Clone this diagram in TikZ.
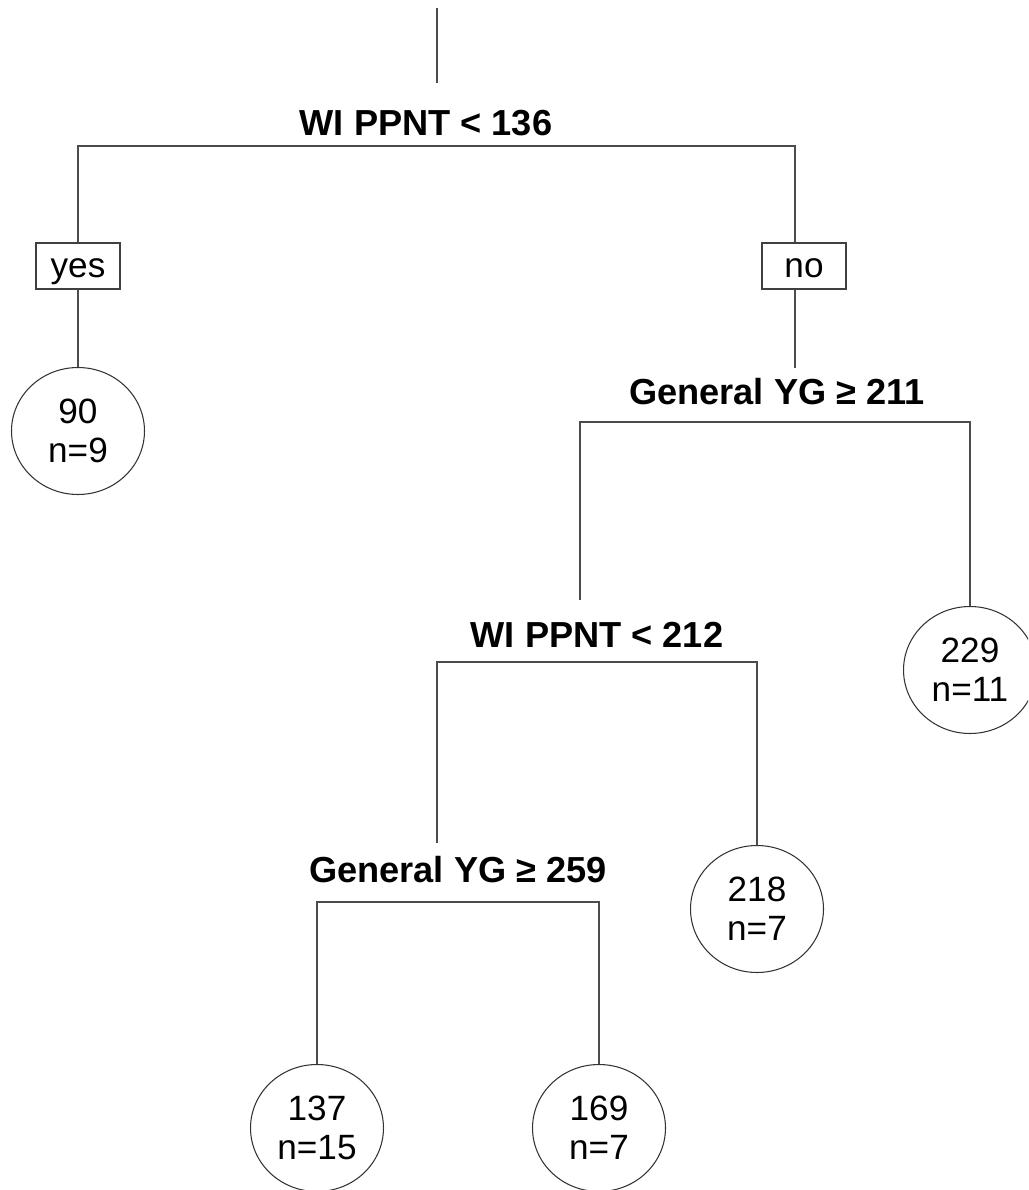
\documentclass[tikz,border=0pt]{standalone}
\usepackage{fontspec}
\setmainfont{Liberation Sans}
\usetikzlibrary{shapes.geometric}
\tikzset{
  split/.style={font=\fontsize{20.6}{22}\selectfont\bfseries, inner sep=0pt},
  answer/.style={draw=black!75, line width=0.6pt, minimum width=1.68cm, minimum height=0.92cm,
    inner sep=0pt, text height=15pt, text depth=1.4pt, font=\fontsize{20}{22}\selectfont},
  leaf/.style={ellipse, draw=black!80, line width=0.6pt, minimum width=2.66cm, minimum height=2.54cm,
    inner sep=0pt, align=center, font=\fontsize{20}{22}\selectfont},
  branch/.style={black!70, line width=0.6pt}
}
\begin{document}
\begin{tikzpicture}[x=0.02cm, y=-0.02cm]
  \useasboundingbox (0,0) rectangle (1028,1190);
  \clip (0,0) rectangle (1028,1190);
  % root split
  \coordinate (root) at (437,8);
  \coordinate (r1) at (437,83);
  \node[split] (s1) at (426,123) {WI PPNT < 136};
  \coordinate (b1l) at (78,146);
  \coordinate (b1r) at (795,146);
  \node[answer] (yes) at (78,266) {yes};
  \node[answer] (no) at (804,266) {no};
  \node[leaf] (leaf90) at (78,431) {90\\n=9};
  \draw[branch] (root) -- (r1);
  \draw[branch] (yes.north) -- (b1l) -- (b1r) -- (b1r |- no.north);
  \draw[branch] (yes.south) -- (leaf90.north);
  % second split
  \coordinate (in2) at (795,368);
  \draw[branch] (no.south -| b1r) -- (in2);
  \node[split] (s2) at (777,392) {General YG ≥ 211};
  \coordinate (b2l) at (580,422);
  \coordinate (b2r) at (970,422);
  \coordinate (in3) at (580,600);
  \node[leaf] (leaf229) at (970,670) {229\\n=11};
  \draw[branch] (in3) -- (b2l) -- (b2r) -- (leaf229.north);
  % third split
  \node[split] (s3) at (597,635) {WI PPNT < 212};
  \coordinate (b3l) at (437,662);
  \coordinate (b3r) at (757,662);
  \coordinate (in4) at (437,843);
  \node[leaf] (leaf218) at (757,909) {218\\n=7};
  \draw[branch] (in4) -- (b3l) -- (b3r) -- (leaf218.north);
  % fourth split
  \node[split] (s4) at (458,870) {General YG ≥ 259};
  \coordinate (b4l) at (317,902);
  \coordinate (b4r) at (599,902);
  \node[leaf] (leaf137) at (317,1128) {137\\n=15};
  \node[leaf] (leaf169) at (599,1128) {169\\n=7};
  \draw[branch] (leaf137.north) -- (b4l) -- (b4r) -- (leaf169.north);
\end{tikzpicture}
\end{document}
